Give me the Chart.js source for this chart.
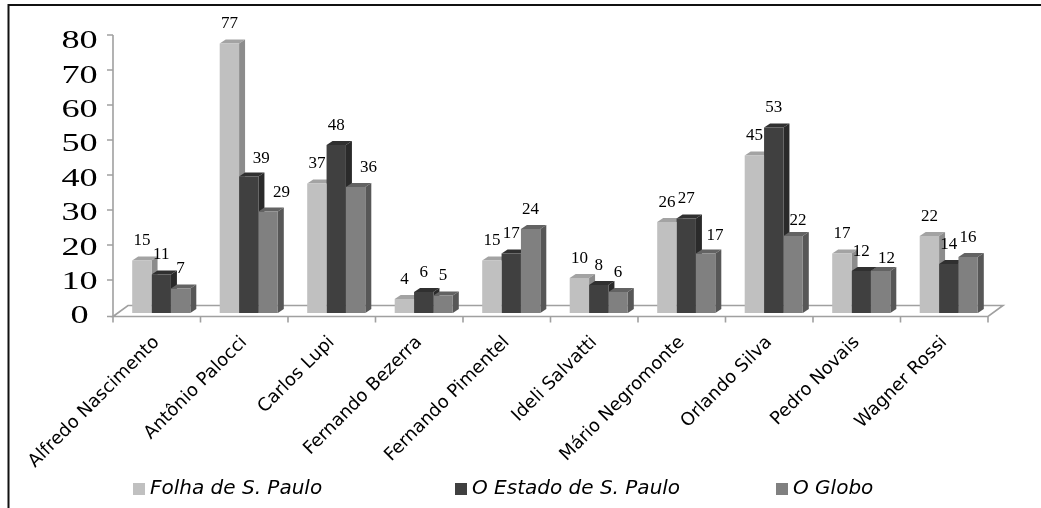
<!DOCTYPE html>
<html>
<head>
<meta charset="utf-8">
<script src="https://cdn.jsdelivr.net/npm/chart.js@4.4.1/dist/chart.umd.min.js"></script>
<style>
  html, body { margin: 0; padding: 0; background: #fff; }
  #wrap { width: 1041px; height: 508px; }
</style>
</head>
<body>
<div id="wrap"><canvas id="chart" width="1041" height="508"></canvas></div>
<script>
const CATEGORIES = ['Alfredo Nascimento', 'Antônio Palocci', 'Carlos Lupi', 'Fernando Bezerra', 'Fernando Pimentel',
  'Ideli Salvatti', 'Mário Negromonte', 'Orlando Silva', 'Pedro Novais', 'Wagner Rossi'];
const SERIES = ['Folha de S. Paulo', 'O Estado de S. Paulo', 'O Globo'];
const FOLHA  = [15, 77, 37, 4, 15, 10, 26, 45, 17, 22];
const ESTADO = [11, 39, 48, 6, 17, 8, 27, 53, 12, 14];
const GLOBO  = [7, 29, 36, 5, 24, 6, 17, 22, 12, 16];
const Y_TICKS = [0, 10, 20, 30, 40, 50, 60, 70, 80];

// front / top / side shades for the fake 3D bars
const FACES = [
  { front: '#c0c0c0', top: '#a3a3a3', side: '#8c8c8c' },
  { front: '#404040', top: '#303030', side: '#2a2a2a' },
  { front: '#808080', top: '#636363', side: '#575757' },
];
const DEPTH = { dx: 6, dy: -4 };
const FLOOR = { dx: 15, dy: -11, shiftX: -4.5, shiftY: 3.5 };
const SERIF = "'Liberation Serif', 'Times New Roman', Times, serif";

// labels that the original moved aside so they clear a taller neighbour ("series:category")
const LABEL_NUDGE = {
  '1:1': [12.5, 2], '2:1': [13.5, 0.5], '2:2': [13, 0],
  '2:6': [9.5, 2], '2:7': [5, 4.5], '2:8': [6, 7.5],
};

Chart.defaults.font.family = "'DejaVu Sans', sans-serif";

// --- 3D floor, axis and bar tops/sides (behind the front faces) ---
const backdrop = {
  id: 'backdrop',
  beforeDatasetsDraw(chart) {
    const { ctx, chartArea: a, scales: { y } } = chart;
    const y0 = y.getPixelForValue(0) + FLOOR.shiftY;
    const xl = a.left + FLOOR.shiftX;
    const xr = a.right + FLOOR.shiftX;
    ctx.save();
    ctx.strokeStyle = '#a0a0a0';
    ctx.lineWidth = 1.6;
    ctx.beginPath();
    ctx.moveTo(xl, y0);
    ctx.lineTo(xl + FLOOR.dx, y0 + FLOOR.dy);
    ctx.lineTo(xr + FLOOR.dx, y0 + FLOOR.dy);
    ctx.lineTo(xr, y0);
    ctx.closePath();
    ctx.stroke();

    // value axis + ticks
    ctx.beginPath();
    ctx.moveTo(xl, y.getPixelForValue(80) + 2);
    ctx.lineTo(xl, y0);
    Y_TICKS.forEach((v) => {
      const py = v === 0 ? y0 : y.getPixelForValue(v) + 2;
      ctx.moveTo(xl - 6, py);
      ctx.lineTo(xl, py);
    });
    // category ticks
    const step = (a.right - a.left) / CATEGORIES.length;
    for (let i = 0; i <= CATEGORIES.length; i++) {
      ctx.moveTo(xl + i * step, y0);
      ctx.lineTo(xl + i * step, y0 + 6);
    }
    ctx.stroke();

    // tops and sides
    chart.data.datasets.forEach((ds, di) => {
      const f = FACES[di];
      chart.getDatasetMeta(di).data.forEach((bar) => {
        const l = bar.x - bar.width / 2;
        const r = bar.x + bar.width / 2;
        const t = bar.y;
        const b = bar.base;
        ctx.fillStyle = f.top;
        ctx.beginPath();
        ctx.moveTo(l, t);
        ctx.lineTo(l + DEPTH.dx, t + DEPTH.dy);
        ctx.lineTo(r + DEPTH.dx, t + DEPTH.dy);
        ctx.lineTo(r, t);
        ctx.closePath();
        ctx.fill();
        ctx.fillStyle = f.side;
        ctx.beginPath();
        ctx.moveTo(r, t);
        ctx.lineTo(r + DEPTH.dx, t + DEPTH.dy);
        ctx.lineTo(r + DEPTH.dx, b + DEPTH.dy);
        ctx.lineTo(r, b);
        ctx.closePath();
        ctx.fill();
      });
    });
    ctx.restore();
  },

  afterDatasetsDraw(chart) {
    const { ctx } = chart;
    ctx.save();
    ctx.fillStyle = '#000';
    ctx.font = '17px ' + SERIF;
    ctx.textAlign = 'center';
    ctx.textBaseline = 'alphabetic';
    chart.data.datasets.forEach((ds, di) => {
      chart.getDatasetMeta(di).data.forEach((bar, i) => {
        const [nx, ny] = LABEL_NUDGE[di + ':' + i] || [0, 0];
        ctx.fillText(String(ds.data[i]), bar.x + nx, bar.y - 15.5 + ny);
      });
    });
    ctx.restore();
  },

  afterDraw(chart) {
    const { ctx, scales: { y } } = chart;
    const base = y.getPixelForValue(0);
    ctx.save();
    // value labels (wide serif, as in the original)
    ctx.fillStyle = '#000';
    ctx.font = '25px ' + SERIF;
    ctx.textAlign = 'center';
    ctx.textBaseline = 'middle';
    Y_TICKS.forEach((v) => {
      const py = base + 3.7 - (base - y.getPixelForValue(v)) * 0.982;
      ctx.save();
      ctx.translate(79.5, py);
      ctx.scale(1.45, 1);
      ctx.fillText(String(v), 0, 0);
      ctx.restore();
    });

    // legend
    const slots = [133, 455, 776];
    ctx.font = "italic 20px 'DejaVu Sans', sans-serif";
    ctx.textAlign = 'left';
    SERIES.forEach((name, i) => {
      ctx.fillStyle = FACES[i].front;
      ctx.fillRect(slots[i], 483, 12, 12);
      ctx.fillStyle = '#000';
      ctx.fillText(name, slots[i] + 17, 489);
    });

    // frame (top and left edges)
    ctx.strokeStyle = '#111';
    ctx.lineWidth = 2;
    ctx.beginPath();
    ctx.moveTo(8.5, 508);
    ctx.lineTo(8.5, 5);
    ctx.lineTo(1041, 5);
    ctx.stroke();
    ctx.restore();
  },
};

function draw() {
  new Chart(document.getElementById('chart'), {
    type: 'bar',
    data: {
      labels: CATEGORIES,
      datasets: [FOLHA, ESTADO, GLOBO].map((vals, i) => ({
        label: SERIES[i],
        data: vals,
        backgroundColor: FACES[i].front,
        borderWidth: 0,
        barPercentage: 1,
        categoryPercentage: 0.664,
      })),
    },
    options: {
      responsive: false,
      devicePixelRatio: 1,
      animation: false,
      layout: { padding: { top: 33, right: 48.5, left: 117.5, bottom: 0 } },
      plugins: { legend: { display: false }, tooltip: { enabled: false } },
      scales: {
        x: {
          grid: { display: false, drawTicks: false },
          border: { display: false },
          ticks: {
            autoSkip: false, minRotation: 45, maxRotation: 45,
            padding: 19, labelOffset: -4.5,
            color: '#000', font: { size: 18 },
          },
          afterFit: (s) => { s.height = 195; },
        },
        y: { display: false, min: 0, max: 80, ticks: { stepSize: 10 } },
      },
    },
    plugins: [backdrop],
  });
}

Promise.all([
  document.fonts.load('17px ' + SERIF),
  document.fonts.load("italic 20px 'DejaVu Sans'"),
  document.fonts.load("18px 'DejaVu Sans'"),
]).then(draw, draw);
</script>
</body>
</html>
